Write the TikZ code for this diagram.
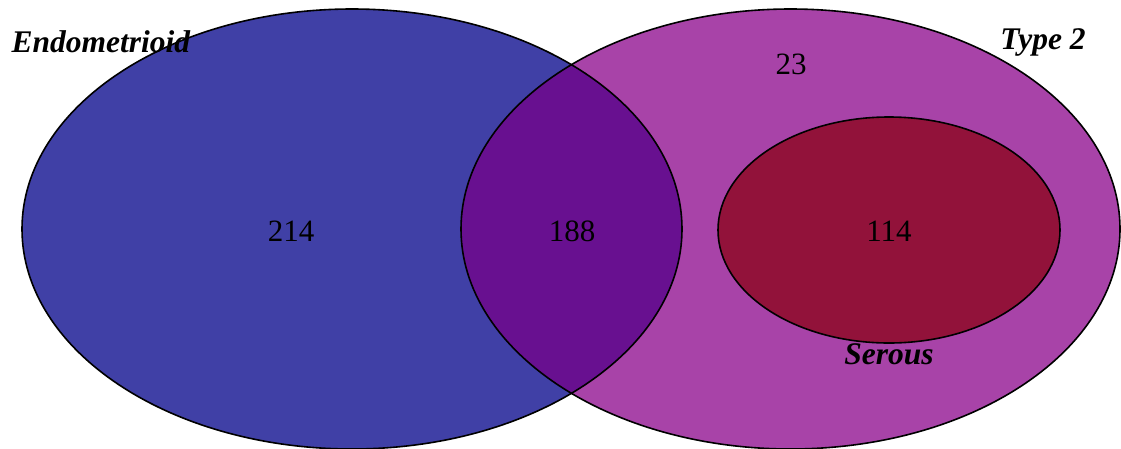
\documentclass[tikz,border=0pt]{standalone}
\usepackage{fontspec}
\setmainfont{Liberation Serif}
\definecolor{endoblue}{RGB}{64,64,166}
\definecolor{typepink}{RGB}{168,67,168}
\definecolor{overlap}{RGB}{104,16,144}
\definecolor{serousred}{RGB}{146,18,58}
\tikzset{
  setlabel/.style={font=\fontsize{31.5}{37}\selectfont\bfseries\itshape},
  count/.style={font=\fontsize{31}{36}\selectfont}
}
\begin{document}
\begin{tikzpicture}[x=1pt,y=-1pt]
  \useasboundingbox (0,0) rectangle (1121,448);
  \fill[endoblue] (352,229) ellipse [x radius=330, y radius=220];
  \fill[typepink] (790.5,229) ellipse [x radius=329.5, y radius=220];
  \begin{scope}
    \clip (352,229) ellipse [x radius=330, y radius=220];
    \fill[overlap] (790.5,229) ellipse [x radius=329.5, y radius=220];
  \end{scope}
  \fill[serousred] (889,230) ellipse [x radius=171, y radius=113];

  \draw[line width=1.6pt] (352,229) ellipse [x radius=330, y radius=220];
  \draw[line width=1.6pt] (790.5,229) ellipse [x radius=329.5, y radius=220];
  \draw[line width=1.6pt] (889,230) ellipse [x radius=171, y radius=113];

\node[setlabel, anchor=west] (endo) at (8,42){Endometrioid};
\node[setlabel] (type2) at (1043,42){Type 2};
\node[setlabel] (serous) at (889,354){Serous};

\node[count] (n23) at (791,64){23};
\node[count] (n214) at (291,231){214};
\node[count] (n188) at (572,231){188};
\node[count] (n114) at (889,231){114};
\end{tikzpicture}
\end{document}
